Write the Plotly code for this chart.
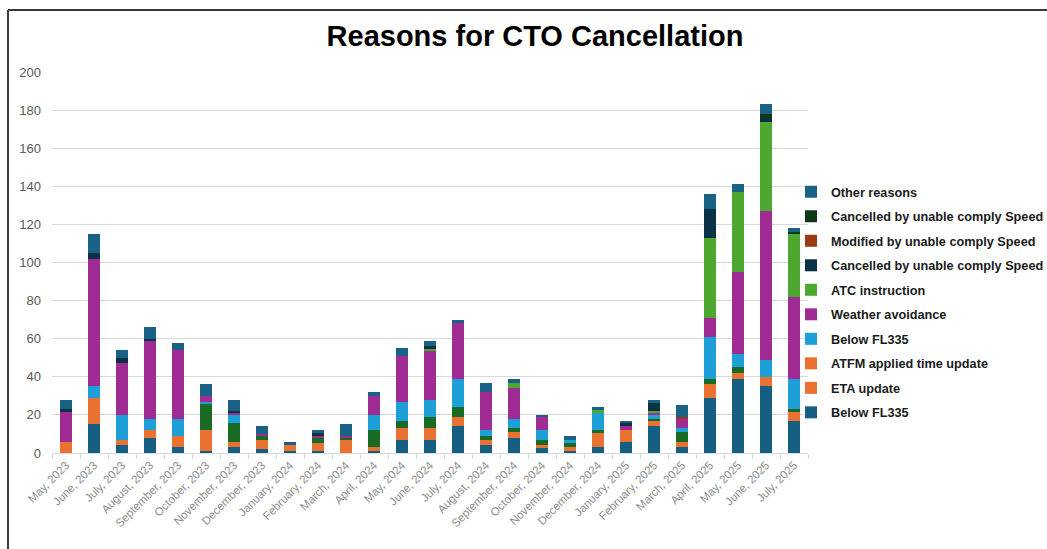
import plotly.graph_objects as go

months = ["May, 2023", "June, 2023", "July, 2023", "August, 2023", "September, 2023",
          "October, 2023", "November, 2023", "December, 2023", "January, 2024",
          "February, 2024", "March, 2024", "April, 2024", "May, 2024", "June, 2024",
          "July, 2024", "August, 2024", "September, 2024", "October, 2024",
          "November, 2024", "December, 2024", "January, 2025", "February, 2025",
          "March, 2025", "April, 2025", "May, 2025", "June, 2025", "July, 2025"]

below_fl335_a = [0, 15, 4, 8, 3, 1, 3, 2, 1, 1, 0, 1, 7, 7, 14, 4, 8, 3, 1, 3, 6, 14, 3, 29, 39, 35, 17]
eta_update = [6, 14, 3, 4, 6, 11, 3, 5, 3, 4, 7, 2, 6, 6, 5, 3, 3, 1, 2, 8, 6, 3, 3, 7, 3, 5, 5]
atfm_update = [0, 0, 0, 0, 0, 14, 10, 2, 0, 3, 1, 9, 4, 6, 5, 2, 2, 3, 2, 1, 0, 1, 5, 3, 3, 0, 1]
below_fl335_b = [0, 6, 13, 6, 9, 1, 4, 0, 0, 0, 0, 8, 10, 9, 15, 3, 5, 5, 2, 9, 0, 2, 2, 22, 7, 9, 16]
weather = [16, 67, 27, 41, 36, 3, 1, 1, 0, 1, 1, 10, 24, 26, 29, 20, 16, 7, 0, 0, 2, 1, 5, 10, 43, 78, 43]
atc = [0, 0, 0, 0, 0, 0, 0, 0, 0, 0, 0, 0, 0, 1, 0, 0, 3, 0, 0, 2, 0, 1, 0, 42, 42, 47, 33]
cancelled_a = [1, 3, 3, 1, 0, 0, 1, 0, 0, 2, 0, 0, 0, 1, 0, 0, 0, 0, 0, 0, 2, 4, 0, 15, 0, 2, 0]
modified = [0, 0, 0, 0, 0, 0, 0, 0, 0, 0, 0, 0, 0, 0, 0, 0, 0, 0, 0, 0, 0, 0, 1, 0, 0, 0, 0]
cancelled_b = [0, 0, 0, 0, 0, 0, 0, 0, 0, 0, 0, 0, 0, 0, 0, 0, 0, 0, 0, 0, 0, 0, 0, 0, 0, 2, 1]
other = [5, 10, 4, 6, 4, 6, 6, 4, 2, 1, 6, 2, 4, 3, 2, 5, 2, 1, 2, 1, 1, 2, 6, 8, 4, 5, 2]

series = [
    ("Below FL335", below_fl335_a, "#156082", "#156082"),
    ("ETA update", eta_update, "#E97132", "#E97132"),
    ("ATFM applied time update", atfm_update, "#196B24", "#E97132"),
    ("Below FL335", below_fl335_b, "#1DA0D8", "#1DA0D8"),
    ("Weather avoidance", weather, "#A02B93", "#A02B93"),
    ("ATC instruction", atc, "#4EA72E", "#4EA72E"),
    ("Cancelled by unable comply Speed", cancelled_a, "#0B3144", "#0B3144"),
    ("Modified by unable comply Speed", modified, "#9A3A14", "#9A3A14"),
    ("Cancelled by unable comply Speed", cancelled_b, "#0E3B16", "#0E3B16"),
    ("Other reasons", other, "#1A6285", "#1A6285"),
]

fig = go.Figure()
# stacked bars (drawn from the data arrays)
for name, vals, bar_col, leg_col in series:
    fig.add_trace(go.Bar(x=months, y=vals, name=name, marker_color=bar_col,
                         marker_line_width=0, showlegend=False))
# legend entries, top to bottom as in the original legend
for i, (name, vals, bar_col, leg_col) in enumerate(reversed(series)):
    fig.add_trace(go.Bar(x=[months[0]], y=[None], name=name, marker_color=leg_col,
                         marker_line_width=0, legendgroup=f"L{i}", showlegend=True))

L, R, T, B = 52, 239, 72, 96
W, H = 1047, 549
pw = W - L - R
ph = H - T - B

def px(x):
    return (x - L) / pw

def py(y):
    return (H - B - y) / ph

fig.update_layout(
    width=W, height=H,
    margin=dict(l=L, r=R, t=T, b=B, pad=0, autoexpand=False),
    barmode="stack",
    bargap=0.6,
    plot_bgcolor="white",
    paper_bgcolor="white",
    font=dict(family="Liberation Sans, Arial, sans-serif", color="#595959"),
    title=dict(text="<b>Reasons for CTO Cancellation</b>",
               x=535 / W, xanchor="center", xref="container",
               y=1 - 36 / H, yanchor="middle", yref="container",
               font=dict(size=29, color="#000000", family="Liberation Sans, Arial, sans-serif")),
    legend=dict(
        x=px(791), xanchor="left", y=py(177), yanchor="top",
        traceorder="grouped", tracegroupgap=5,
        font=dict(size=12.7, color="#1a1a1a", family="Liberation Sans, Arial, sans-serif", weight="bold"),
        itemwidth=30, bgcolor="rgba(0,0,0,0)",
    ),
    xaxis=dict(
        type="category",
        tickangle=-45,
        tickfont=dict(size=11.5, color="#8c8c8c"),
        showline=True, linecolor="#d9d9d9", linewidth=1,
        ticks="outside", tickson="boundaries", ticklen=5, tickcolor="#d9d9d9",
        showgrid=False,
    ),
    yaxis=dict(
        range=[0, 200], dtick=20,
        tickfont=dict(size=13, color="#595959"),
        showgrid=True, gridcolor="#d9d9d9", gridwidth=1,
        zeroline=False, showline=False,
        ticks="", ticklabelstandoff=10,
    ),
    shapes=[
        dict(type="line", xref="paper", yref="paper", x0=px(8), x1=px(1047), y0=py(10), y1=py(10),
             line=dict(color="#3a3a3a", width=2)),
        dict(type="line", xref="paper", yref="paper", x0=px(8), x1=px(8), y0=py(10), y1=py(549),
             line=dict(color="#3a3a3a", width=2)),
    ],
)

fig.write_html("out.html")
